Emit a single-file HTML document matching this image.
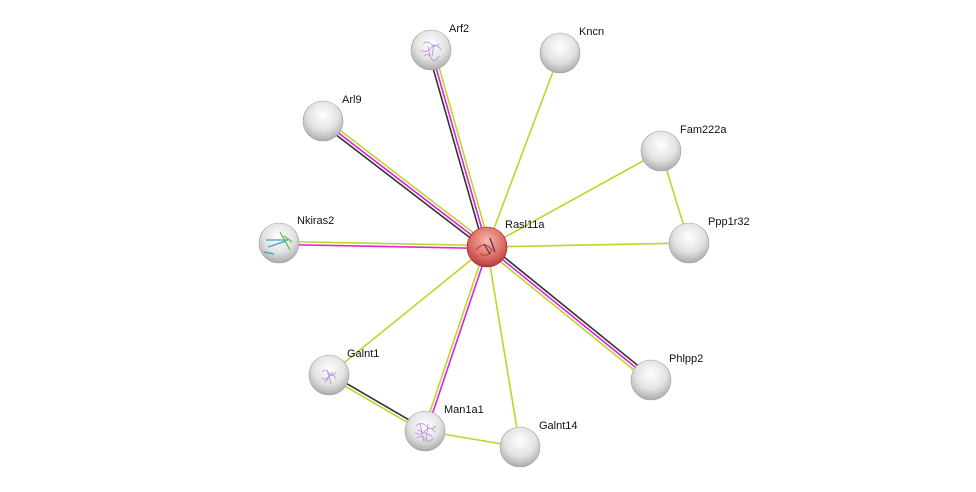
<!DOCTYPE html>
<html><head><meta charset="utf-8"><style>
html,body{margin:0;padding:0;background:#fff;}
svg{display:block;}
text{font-family:"Liberation Sans",sans-serif;font-size:11px;fill:#111;}
</style></head><body>
<svg width="976" height="492" viewBox="0 0 976 492" xmlns="http://www.w3.org/2000/svg">
<defs>
<radialGradient id="g" cx="0.5" cy="0.35" r="0.7">
<stop offset="0" stop-color="#ffffff"/><stop offset="0.55" stop-color="#e2e2e2"/><stop offset="0.9" stop-color="#b0b0b0"/><stop offset="1" stop-color="#8a8a8a"/>
</radialGradient>
<radialGradient id="r" cx="0.5" cy="0.35" r="0.7">
<stop offset="0" stop-color="#f6b8b0"/><stop offset="0.55" stop-color="#de726a"/><stop offset="0.9" stop-color="#b84040"/><stop offset="1" stop-color="#902020"/>
</radialGradient>
</defs>
<g stroke-width="1.6" fill="none">
<line x1="428.1" y1="50.8" x2="484.1" y2="247.8" stroke="#333"/>
<line x1="431" y1="50" x2="487" y2="247" stroke="#e020e0"/>
<line x1="433.9" y1="49.2" x2="489.9" y2="246.2" stroke="#bcd62a"/>
<line x1="324.8" y1="118.6" x2="488.8" y2="244.6" stroke="#bcd62a"/>
<line x1="323" y1="121" x2="487" y2="247" stroke="#e020e0"/>
<line x1="321.2" y1="123.4" x2="485.2" y2="249.4" stroke="#333"/>
<line x1="279" y1="241.5" x2="487" y2="245.5" stroke="#bcd62a"/>
<line x1="279" y1="244.5" x2="487" y2="248.5" stroke="#e020e0"/>
<line x1="488.9" y1="244.7" x2="652.9" y2="377.7" stroke="#333"/>
<line x1="487" y1="247" x2="651" y2="380" stroke="#e020e0"/>
<line x1="485.1" y1="249.3" x2="649.1" y2="382.3" stroke="#bcd62a"/>
<line x1="488.4" y1="247.5" x2="426.4" y2="431.5" stroke="#e020e0"/>
<line x1="485.6" y1="246.5" x2="423.6" y2="430.5" stroke="#bcd62a"/>
<line x1="329.8" y1="373.7" x2="425.8" y2="429.7" stroke="#333"/>
<line x1="328.2" y1="376.3" x2="424.2" y2="432.3" stroke="#bcd62a"/>
<g stroke="#bcd62a">
<line x1="487" y1="247" x2="560" y2="53"/>
<line x1="487" y1="247" x2="661" y2="151"/>
<line x1="661" y1="151" x2="689" y2="243"/>
<line x1="487" y1="247" x2="689" y2="243"/>
<line x1="487" y1="247" x2="329" y2="375"/>
<line x1="487" y1="247" x2="520" y2="447"/>
<line x1="425" y1="431" x2="520" y2="447"/>
</g>
</g>
<g stroke="#a0a0a0" stroke-width="0.6">
<circle cx="431" cy="50" r="20" fill="url(#g)"/>
<circle cx="560" cy="53" r="20" fill="url(#g)"/>
<circle cx="323" cy="121" r="20" fill="url(#g)"/>
<circle cx="661" cy="151" r="20" fill="url(#g)"/>
<circle cx="279" cy="243" r="20" fill="url(#g)"/>
<circle cx="689" cy="243" r="20" fill="url(#g)"/>
<circle cx="329" cy="375" r="20" fill="url(#g)"/>
<circle cx="651" cy="380" r="20" fill="url(#g)"/>
<circle cx="425" cy="431" r="20" fill="url(#g)"/>
<circle cx="520" cy="447" r="20" fill="url(#g)"/>
<circle cx="487" cy="247" r="20" fill="url(#r)" stroke="#902020"/>
</g>
<g fill="none" stroke="#b070d8" stroke-width="0.8" opacity="0.8">
<path d="M423 44 q4 -4 8 0 t8 0 M421 50 q5 4 10 -2 t10 2 M424 56 q4 -4 7 2 t8 -2 M428 46 l2 10 M434 44 l-2 12"/>
<path d="M322 372 q4 -4 7 1 t7 -1 M322 378 q4 3 7 -2 t7 3 M325 382 l8 -10 M327 370 l4 14"/>
<path d="M416 426 q5 -5 10 0 t10 0 M415 432 q5 5 10 -1 t10 1 M417 438 q4 -4 8 1 t8 -1 M420 424 l4 18 M428 424 l-2 18 M418 430 l14 6"/>
</g>
<g fill="none" stroke-width="1.2">
<path d="M266 240 l22 0 M268 247 l18 -6 M264 252 l10 2" stroke="#3aa0d0"/><path d="M280 232 l10 18 M284 236 l8 6" stroke="#5ac040"/>
<path d="M476 250 q8 -10 16 0 q-4 8 -12 4" stroke="#c05020"/><path d="M490 238 l5 14 M484 244 l6 10" stroke="#5a2070"/>
</g>
<text x="449" y="32">Arf2</text>
<text x="579" y="35">Kncn</text>
<text x="342" y="103">Arl9</text>
<text x="680" y="133">Fam222a</text>
<text x="297" y="224">Nkiras2</text>
<text x="505" y="228">Rasl11a</text>
<text x="708" y="225">Ppp1r32</text>
<text x="347" y="357">Galnt1</text>
<text x="669" y="362">Phlpp2</text>
<text x="444" y="413">Man1a1</text>
<text x="539" y="429">Galnt14</text>
</svg>
</body></html>
